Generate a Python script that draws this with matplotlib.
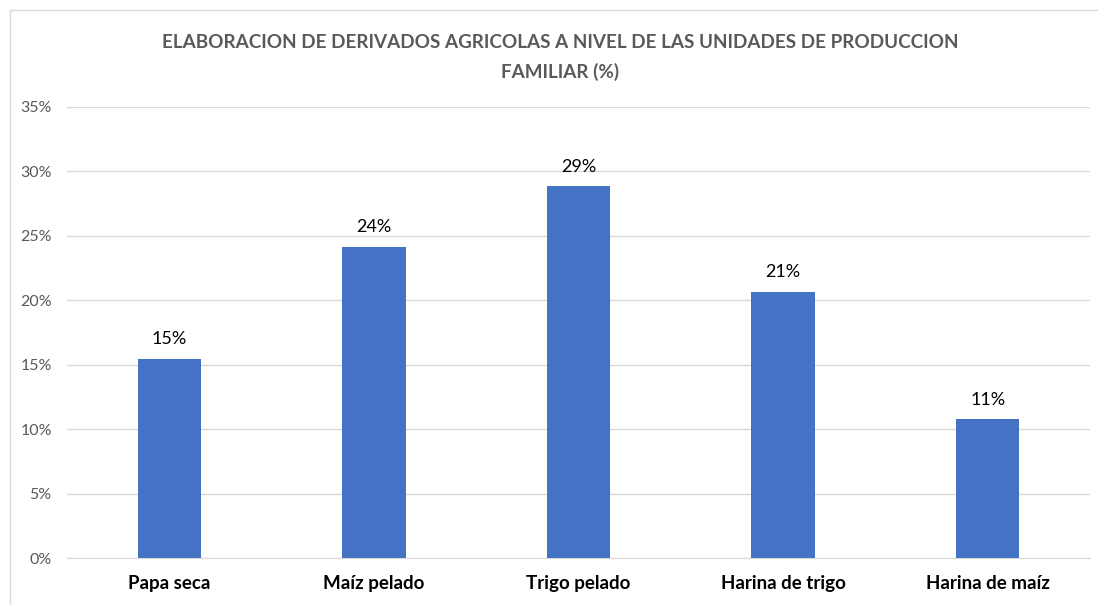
import matplotlib
matplotlib.use("Agg")
from matplotlib import pyplot as plt
from matplotlib.patches import Rectangle
from matplotlib import font_manager
import numpy as np

# data
categories = ["Papa seca", "Maíz pelado", "Trigo pelado", "Harina de trigo", "Harina de maíz"]
values = [15.45, 24.15, 28.85, 20.65, 10.75]
labels = ["15%", "24%", "29%", "21%", "11%"]
yticks = [0, 5, 10, 15, 20, 25, 30, 35]

names = {f.name for f in font_manager.fontManager.ttflist}
fam = "Liberation Sans Narrow" if "Liberation Sans Narrow" in names else "Lato"
plt.rcParams["font.family"] = [fam, "DejaVu Sans"]

W, H = 1098, 605
fig = plt.figure(figsize=(W / 100, H / 100), dpi=100)
ax = fig.add_axes([67 / W, 1 - 558 / H, (1090 - 67) / W, (558 - 107) / H])

x = np.arange(len(categories))
ax.bar(x, values, width=0.31, color="#4472C4", zorder=3)
for xi, v, lab in zip(x, values, labels):
    ax.text(xi, v + 0.9, lab, ha="center", va="bottom", fontsize=13, color="#000000")

ax.set_xlim(-0.5, len(categories) - 0.5)
ax.set_ylim(0, 35)
ax.set_yticks(yticks)
ax.set_yticklabels([f"{t}%" for t in yticks], fontsize=11.5, color="#595959")
ax.set_xticks(x)
ax.set_xticklabels(categories, fontsize=13.5, fontweight="bold", color="#000000")
ax.tick_params(axis="both", length=0)
ax.tick_params(axis="x", pad=12)
ax.tick_params(axis="y", pad=11)
ax.grid(axis="y", color="#d9d9d9", linewidth=1, zorder=0)
for s in ["top", "right", "left"]:
    ax.spines[s].set_visible(False)
ax.spines["bottom"].set_color("#d9d9d9")

# title, centred a bit right of the figure middle like the original
fig.text(560 / W, 1 - 42 / H, "ELABORACION DE DERIVADOS AGRICOLAS A NIVEL DE LAS UNIDADES DE PRODUCCION",
         ha="center", va="center", fontsize=13.6, fontweight="bold", color="#595959")
fig.text(560 / W, 1 - 72 / H, "FAMILIAR (%)",
         ha="center", va="center", fontsize=13.6, fontweight="bold", color="#595959")

# chart border
fig.patches.append(Rectangle((10 / W, -0.1), 1.2, 1 - 10 / H + 0.1, transform=fig.transFigure,
                             fill=False, edgecolor="#d9d9d9", linewidth=1))

fig.savefig("out.png", dpi=100)
